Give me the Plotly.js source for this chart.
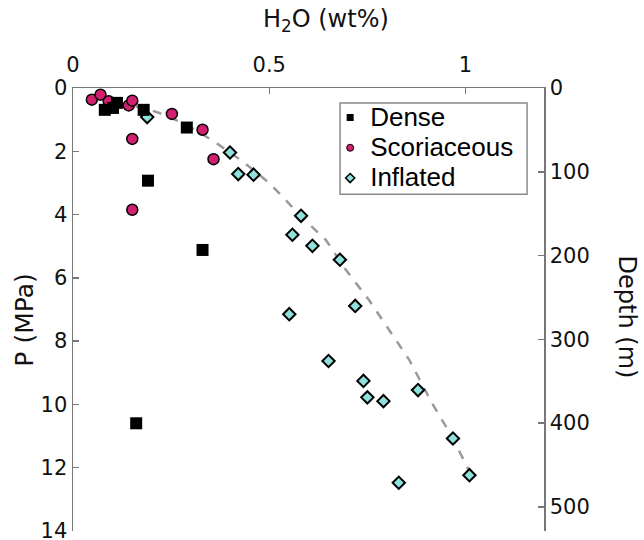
<!DOCTYPE html>
<html>
<head>
<meta charset="utf-8">
<script src="https://cdn.plot.ly/plotly-3.0.1.min.js"></script>
<style>html,body{margin:0;padding:0;background:#fff;}#chart{width:644px;height:540px;}</style>
</head>
<body>
<div id="chart"></div>
<script>
// Dense samples
const denseH2O = [0.081, 0.102, 0.112, 0.180, 0.290, 0.191, 0.330, 0.161];
const denseP   = [0.69, 0.63, 0.47, 0.69, 1.25, 2.93, 5.12, 10.60];
// Scoriaceous samples
const scorH2O = [0.048, 0.070, 0.091, 0.142, 0.151, 0.252, 0.330, 0.151, 0.358, 0.151];
const scorP   = [0.37, 0.21, 0.42, 0.55, 0.40, 0.82, 1.32, 1.61, 2.25, 3.85];
// Inflated samples
const inflH2O = [0.189, 0.400, 0.421, 0.460, 0.581, 0.559, 0.610, 0.680, 0.719, 0.551, 0.651, 0.740, 0.750, 0.791, 0.879, 0.968, 1.010, 0.830];
const inflP   = [0.92, 2.04, 2.72, 2.74, 4.04, 4.64, 4.99, 5.43, 6.89, 7.15, 8.63, 9.26, 9.78, 9.90, 9.55, 11.08, 12.24, 12.48];
// Dashed reference curve
const curveH2O = [0.114, 0.180, 0.220, 0.271, 0.318, 0.365, 0.432, 0.496, 0.525, 0.581, 0.644, 0.695, 0.754, 0.800, 0.857, 0.915, 0.966, 1.023];
const curveP   = [0.47, 0.63, 0.79, 1.06, 1.37, 1.74, 2.32, 2.96, 3.32, 4.06, 4.80, 5.75, 6.70, 7.54, 8.60, 9.97, 11.03, 12.45];
// Axes
const xTicks = [0, 0.5, 1];
const pTicks = [0, 2, 4, 6, 8, 10, 12, 14];
const depthTicks = [0, 100, 200, 300, 400, 500];
const pMax = 14.005;
const depthMax = 528.8;
// Legend labels
const legendNames = ['Dense', 'Scoriaceous', 'Inflated'];

const magenta = '#d21f6f';
const cyan = '#8fe1dc';
const big = s => '<span style="font-size:26px">' + s + '</span>';

const traces = [
  {x: curveH2O, y: curveP, mode: 'lines', line: {color: '#9a9a9a', width: 2.5, dash: 'dash'}, showlegend: false, hoverinfo: 'skip'},
  {x: inflH2O, y: inflP, mode: 'markers', name: 'Inflated', showlegend: false,
   marker: {symbol: 'diamond', size: 9.5, color: cyan, line: {color: '#000', width: 2}}},
  {x: scorH2O, y: scorP, mode: 'markers', name: 'Scoriaceous', showlegend: false,
   marker: {symbol: 'circle', size: 11, color: magenta, line: {color: '#000', width: 1.5}}},
  {x: denseH2O, y: denseP, mode: 'markers', name: 'Dense', showlegend: false,
   marker: {symbol: 'square', size: 12, color: '#000', line: {color: '#000', width: 0}}},
  // legend entries
  {x: [null], y: [null], mode: 'markers', name: big(legendNames[0]), marker: {symbol: 'square', size: 7, color: '#000'}},
  {x: [null], y: [null], mode: 'markers', name: big(legendNames[1]), marker: {symbol: 'circle', size: 7, color: magenta, line: {color: '#000', width: 1}}},
  {x: [null], y: [null], mode: 'markers', name: big(legendNames[2]), marker: {symbol: 'diamond', size: 7, color: cyan, line: {color: '#000', width: 1.5}}},
  // right depth axis carrier
  {x: [null], y: [null], yaxis: 'y2', mode: 'markers', showlegend: false, hoverinfo: 'skip'}
];

const tickFont = {family: 'DejaVu Sans', size: 21, color: '#111'};
const titleFont = {family: 'DejaVu Sans', size: 24, color: '#111'};

const layout = {
  width: 644, height: 540,
  margin: {l: 73, r: 100, t: 88, b: 9, pad: 0},
  paper_bgcolor: '#fff', plot_bgcolor: '#fff',
  showlegend: true,
  legend: {x: 0.546, y: 0.979, xanchor: 'left', yanchor: 'top', bgcolor: 'rgba(0,0,0,0)',
           borderwidth: 0,
           font: {family: 'Liberation Sans', size: 21, color: '#000'}, traceorder: 'normal',
           itemwidth: 30},
  shapes: [
    {type: 'rect', xref: 'paper', yref: 'paper', x0: 0.567, x1: 0.964, y0: 0.760, y1: 0.966,
     line: {color: '#8a8a8a', width: 1.5}, fillcolor: '#fff', layer: 'below'}
  ],
  xaxis: {side: 'top', range: [0, 1.2], tickvals: xTicks, ticktext: xTicks.map(String),
          ticks: 'inside', ticklen: 6, tickcolor: '#777', tickwidth: 1.5, ticklabelstandoff: 6,
          showline: true, linecolor: '#777', linewidth: 1.5, showgrid: false, zeroline: false,
          tickfont: tickFont, fixedrange: true},
  yaxis: {range: [pMax, 0], tickvals: pTicks, ticks: 'inside', ticklen: 6, tickcolor: '#777', tickwidth: 1.5,
          showline: true, linecolor: '#777', linewidth: 1.5, showgrid: false, zeroline: false,
          ticklabeloverflow: 'allow', tickfont: tickFont, fixedrange: true},
  yaxis2: {overlaying: 'y', side: 'right', range: [depthMax, 0], tickvals: depthTicks,
           ticks: 'inside', ticklen: 6, tickcolor: '#777', tickwidth: 1.5,
           showline: true, linecolor: '#777', linewidth: 1.5, showgrid: false, zeroline: false,
           ticklabeloverflow: 'allow', tickfont: tickFont, fixedrange: true},
  annotations: [
    {text: 'H<sub>2</sub>O (wt%)', xref: 'paper', yref: 'paper', x: 0.537, y: 1.152,
     xanchor: 'center', yanchor: 'middle', showarrow: false, font: titleFont},
    {text: 'P (MPa)', xref: 'paper', yref: 'paper', x: -0.102, y: 0.477, textangle: -90,
     xanchor: 'center', yanchor: 'middle', showarrow: false, font: {family: 'DejaVu Sans', size: 25, color: '#111'}},
    {text: 'Depth (m)', xref: 'paper', yref: 'paper', x: 1.176, y: 0.482, textangle: 90,
     xanchor: 'center', yanchor: 'middle', showarrow: false, font: titleFont}
  ]
};

Plotly.newPlot('chart', traces, layout, {displayModeBar: false, staticPlot: true});
</script>
</body>
</html>
